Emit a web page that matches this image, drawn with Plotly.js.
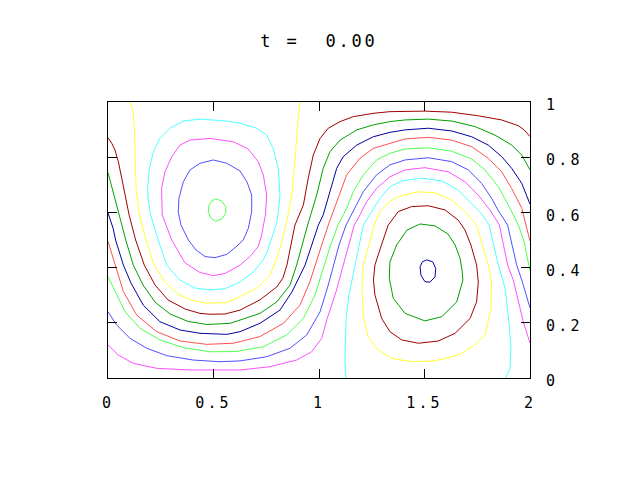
<!DOCTYPE html>
<html>
<head>
<meta charset="utf-8">
<script src="https://cdn.plot.ly/plotly-3.0.1.min.js"></script>
<style>
  html, body { margin: 0; padding: 0; background: #fff; }
  #plot { width: 640px; height: 480px; }
  .gtitle { letter-spacing: 2.8px; }
  .xtick text, .ytick text { letter-spacing: 3.2px; }
</style>
</head>
<body>
<div id="plot"></div>
<script>
// ---- tick values / labels ----
const xTickVals = [0, 0.5, 1, 1.5, 2];
const xTickText = ['0', '0.5', '1', '1.5', '2'];
const yTickVals = [0, 0.2, 0.4, 0.6, 0.8, 1];
const yTickText = ['0', '0.2', '0.4', '0.6', '0.8', '1'];
const titleText = 't =&nbsp;&nbsp;0.00';

// ---- contour lines (x, y in data units) ----
// left gyre
const lgCoreX = [0.510,0.539,0.558,0.558,0.539,0.510,0.488,0.475,0.479,0.491,0.510];
const lgCoreY = [0.649,0.641,0.621,0.597,0.576,0.568,0.579,0.600,0.627,0.641,0.649];

const lbLeftX = [0.499,0.563,0.626,0.659,0.681,0.681,0.665,0.641,0.611,0.563,0.507,0.460,0.417,0.381,0.346,0.333,0.336,0.357,0.389,0.436,0.499];
const lbLeftY = [0.790,0.778,0.750,0.710,0.663,0.603,0.542,0.500,0.478,0.448,0.436,0.440,0.464,0.500,0.554,0.601,0.651,0.711,0.754,0.778,0.790];

const mgLeftX = [0.483,0.594,0.664,0.712,0.736,0.752,0.746,0.728,0.712,0.673,0.626,0.555,0.499,0.436,0.365,0.302,0.257,0.254,0.254,0.270,0.302,0.341,0.389,0.483];
const mgLeftY = [0.868,0.856,0.830,0.784,0.736,0.663,0.591,0.518,0.476,0.440,0.409,0.379,0.371,0.382,0.417,0.500,0.591,0.645,0.687,0.747,0.802,0.844,0.862,0.868];

const cyLeftX = [0.436,0.563,0.626,0.705,0.752,0.783,0.807,0.815,0.803,0.781,0.758,0.736,0.689,0.626,0.555,0.483,0.412,0.341,0.278,0.238,0.202,0.191,0.188,0.196,0.215,0.246,0.294,0.357,0.436];
const cyLeftY = [0.938,0.931,0.923,0.905,0.880,0.832,0.760,0.663,0.572,0.518,0.464,0.428,0.384,0.348,0.324,0.319,0.326,0.355,0.409,0.500,0.591,0.645,0.687,0.760,0.820,0.868,0.905,0.931,0.938];

const ylLeftX = [0.104,0.120,0.125,0.128,0.133,0.147,0.179,0.219,0.270,0.332,0.398,0.468,0.563,0.626,0.705,0.768,0.800,0.823,0.847,0.871,0.886,0.897,0.910];
const ylLeftY = [1.000,0.964,0.906,0.783,0.688,0.598,0.500,0.409,0.348,0.304,0.281,0.271,0.273,0.295,0.325,0.373,0.434,0.493,0.566,0.663,0.784,0.905,1.000];

// lines running from the left edge to the right edge
const drOuterX = [0,0.018,0.033,0.049,0.065,0.089,0.100,0.131,0.172,0.223,0.284,0.365,0.436,0.483,0.555,0.626,0.720,0.800,0.829,0.848,0.867,0.886,0.926,0.949,0.973,1.005,1.044,1.100,1.163,1.257,1.336,1.408,1.502,1.629,1.755,1.866,1.945,1.972,2.0];
const drOuterY = [0.871,0.850,0.826,0.784,0.724,0.639,0.591,0.500,0.409,0.337,0.283,0.250,0.234,0.231,0.232,0.246,0.283,0.330,0.362,0.409,0.482,0.554,0.627,0.724,0.808,0.868,0.905,0.929,0.947,0.959,0.965,0.967,0.967,0.963,0.950,0.935,0.914,0.899,0.875];

const gnOuterX = [0,0.025,0.043,0.062,0.084,0.120,0.166,0.223,0.294,0.379,0.469,0.578,0.626,0.720,0.800,0.863,0.894,0.919,0.946,0.989,1.020,1.052,1.100,1.179,1.257,1.336,1.408,1.518,1.629,1.739,1.834,1.913,1.961,2.0];
const gnOuterY = [0.744,0.675,0.627,0.565,0.500,0.409,0.337,0.275,0.232,0.205,0.194,0.198,0.210,0.234,0.276,0.337,0.409,0.482,0.554,0.663,0.760,0.820,0.862,0.899,0.917,0.929,0.935,0.938,0.931,0.911,0.880,0.844,0.808,0.754];

const dbOuterX = [0,0.024,0.036,0.073,0.109,0.167,0.246,0.341,0.436,0.563,0.626,0.720,0.815,0.872,0.934,0.965,0.997,1.020,1.052,1.084,1.115,1.179,1.257,1.336,1.408,1.518,1.629,1.724,1.802,1.866,1.913,1.961,2.0];
const dbOuterY = [0.598,0.543,0.500,0.409,0.344,0.264,0.204,0.174,0.162,0.158,0.168,0.198,0.246,0.312,0.409,0.482,0.554,0.591,0.675,0.760,0.802,0.844,0.874,0.890,0.899,0.905,0.895,0.874,0.844,0.802,0.760,0.705,0.630];

const smOuterX = [0,0.033,0.073,0.136,0.231,0.341,0.468,0.594,0.626,0.720,0.831,0.910,0.957,0.981,1.013,1.044,1.068,1.100,1.131,1.194,1.257,1.336,1.408,1.518,1.629,1.724,1.802,1.866,1.913,1.961,2.0];
const smOuterY = [0.495,0.409,0.313,0.228,0.168,0.134,0.122,0.126,0.132,0.150,0.198,0.264,0.349,0.409,0.482,0.554,0.603,0.675,0.736,0.796,0.832,0.850,0.866,0.872,0.862,0.838,0.796,0.747,0.687,0.615,0.496];

const lgOuterX = [0,0.033,0.081,0.152,0.246,0.357,0.483,0.607,0.736,0.847,0.926,0.981,1.025,1.055,1.090,1.131,1.163,1.210,1.273,1.336,1.408,1.518,1.629,1.724,1.787,1.850,1.897,1.945,1.972,1.986,2.0];
const lgOuterY = [0.367,0.313,0.240,0.180,0.138,0.110,0.095,0.096,0.113,0.156,0.216,0.301,0.409,0.482,0.554,0.615,0.675,0.736,0.790,0.814,0.830,0.834,0.822,0.793,0.754,0.693,0.627,0.554,0.494,0.446,0.388];

const lbOuterX = [0,0.041,0.104,0.183,0.278,0.404,0.531,0.626,0.752,0.863,0.942,1.005,1.044,1.068,1.095,1.128,1.171,1.210,1.273,1.336,1.408,1.518,1.629,1.708,1.771,1.818,1.848,1.872,1.894,1.915,1.937,1.961,1.981,2.0];
const lbOuterY = [0.240,0.192,0.144,0.108,0.081,0.065,0.059,0.062,0.077,0.108,0.156,0.240,0.337,0.409,0.482,0.554,0.615,0.675,0.736,0.772,0.790,0.798,0.784,0.754,0.705,0.651,0.609,0.580,0.554,0.482,0.409,0.355,0.301,0.254];

const mgOuterX = [0,0.049,0.120,0.231,0.389,0.515,0.626,0.768,0.894,0.965,1.013,1.039,1.081,1.115,1.141,1.167,1.186,1.226,1.273,1.336,1.408,1.502,1.613,1.692,1.754,1.810,1.855,1.874,1.894,1.921,1.945,1.968,2.0];
const mgOuterY = [0.120,0.083,0.053,0.035,0.029,0.029,0.029,0.041,0.065,0.095,0.144,0.216,0.313,0.409,0.482,0.554,0.579,0.639,0.687,0.729,0.754,0.762,0.747,0.711,0.663,0.609,0.554,0.482,0.409,0.355,0.276,0.204,0.127];

// right gyre
const cyRightX = [1.128,1.123,1.128,1.142,1.171,1.190,1.210,1.250,1.289,1.336,1.392,1.487,1.582,1.660,1.724,1.771,1.806,1.828,1.850,1.882,1.900,1.910,1.905,1.885];
const cyRightY = [0,0.059,0.216,0.301,0.409,0.482,0.554,0.603,0.651,0.693,0.714,0.724,0.714,0.681,0.633,0.594,0.554,0.482,0.409,0.325,0.204,0.108,0.035,0];

const ylRightX = [1.471,1.550,1.629,1.692,1.747,1.775,1.802,1.818,1.815,1.787,1.739,1.660,1.550,1.439,1.345,1.275,1.232,1.209,1.204,1.210,1.236,1.262,1.289,1.327,1.376,1.471];
const ylRightY = [0.675,0.671,0.645,0.603,0.554,0.482,0.409,0.349,0.253,0.156,0.120,0.083,0.062,0.059,0.071,0.105,0.152,0.228,0.319,0.409,0.482,0.554,0.603,0.634,0.657,0.675];

const drRightX = [1.518,1.597,1.660,1.692,1.720,1.747,1.755,1.747,1.716,1.645,1.565,1.471,1.392,1.336,1.297,1.265,1.258,1.265,1.296,1.328,1.376,1.439,1.518];
const drRightY = [0.624,0.609,0.572,0.536,0.482,0.409,0.348,0.276,0.216,0.162,0.134,0.126,0.138,0.168,0.216,0.301,0.355,0.409,0.482,0.554,0.603,0.621,0.624];

const gnRightX = [1.479,1.550,1.611,1.645,1.668,1.678,1.682,1.653,1.582,1.502,1.408,1.352,1.333,1.336,1.368,1.417,1.479];
const gnRightY = [0.558,0.551,0.522,0.482,0.435,0.391,0.355,0.276,0.222,0.207,0.234,0.289,0.361,0.420,0.482,0.536,0.558];

const dbCoreX = [1.510,1.539,1.553,1.550,1.526,1.502,1.483,1.479,1.490,1.510];
const dbCoreY = [0.428,0.421,0.397,0.367,0.347,0.349,0.373,0.403,0.421,0.428];

// ---- styles (kept separate from the data) ----
const palette = {
  darkred: '#a00000', green: '#00a000', darkblue: '#0000a0',
  salmon: '#ff5050', lightgreen: '#50ff50', lightblue: '#5050ff',
  magenta: '#ff50ff', cyan: '#50ffff', yellow: '#ffff30'
};

const lines = [
  [lgCoreX, lgCoreY, 'lightgreen'],
  [lbLeftX, lbLeftY, 'lightblue'],
  [mgLeftX, mgLeftY, 'magenta'],
  [cyLeftX, cyLeftY, 'cyan'],
  [ylLeftX, ylLeftY, 'yellow'],
  [drOuterX, drOuterY, 'darkred'],
  [gnOuterX, gnOuterY, 'green'],
  [dbOuterX, dbOuterY, 'darkblue'],
  [smOuterX, smOuterY, 'salmon'],
  [lgOuterX, lgOuterY, 'lightgreen'],
  [lbOuterX, lbOuterY, 'lightblue'],
  [mgOuterX, mgOuterY, 'magenta'],
  [cyRightX, cyRightY, 'cyan'],
  [ylRightX, ylRightY, 'yellow'],
  [drRightX, drRightY, 'darkred'],
  [gnRightX, gnRightY, 'green'],
  [dbCoreX, dbCoreY, 'darkblue']
];

const traces = lines.map(([x, y, c]) => ({
  type: 'scatter', mode: 'lines', x: x, y: y,
  line: { color: palette[c], width: 1, shape: 'linear' },
  hoverinfo: 'skip', showlegend: false
}));

const tickFont = { family: 'DejaVu Sans Mono, Liberation Mono, monospace', size: 15, color: '#000' };

const layout = {
  width: 640, height: 480,
  margin: { l: 108, r: 110, t: 102, b: 102, pad: 0 },
  paper_bgcolor: '#ffffff', plot_bgcolor: '#ffffff',
  showlegend: false,
  title: {
    text: titleText,
    font: { family: 'DejaVu Sans Mono, Liberation Mono, monospace', size: 17, color: '#000' },
    xref: 'paper', x: 0.5, xanchor: 'center',
    yref: 'container', y: 1 - 41.5 / 480, yanchor: 'middle'
  },
  xaxis: {
    range: [0, 2], tickmode: 'array', tickvals: xTickVals, ticktext: xTickText,
    ticks: 'inside', ticklen: 9, tickwidth: 1, tickcolor: '#000',
    showline: true, linecolor: '#000', linewidth: 1, mirror: 'ticks',
    showgrid: false, zeroline: false, fixedrange: true,
    tickfont: tickFont, ticklabelstandoff: 11, automargin: false
  },
  yaxis: {
    range: [0, 1], side: 'right', tickmode: 'array', tickvals: yTickVals, ticktext: yTickText,
    ticks: 'inside', ticklen: 9, tickwidth: 1, tickcolor: '#000',
    showline: true, linecolor: '#000', linewidth: 1, mirror: 'ticks',
    showgrid: false, zeroline: false, fixedrange: true,
    tickfont: tickFont, ticklabelstandoff: 12, ticklabelshift: 3, automargin: false
  }
};

Plotly.newPlot('plot', traces, layout, { staticPlot: true, displayModeBar: false });
</script>
</body>
</html>
